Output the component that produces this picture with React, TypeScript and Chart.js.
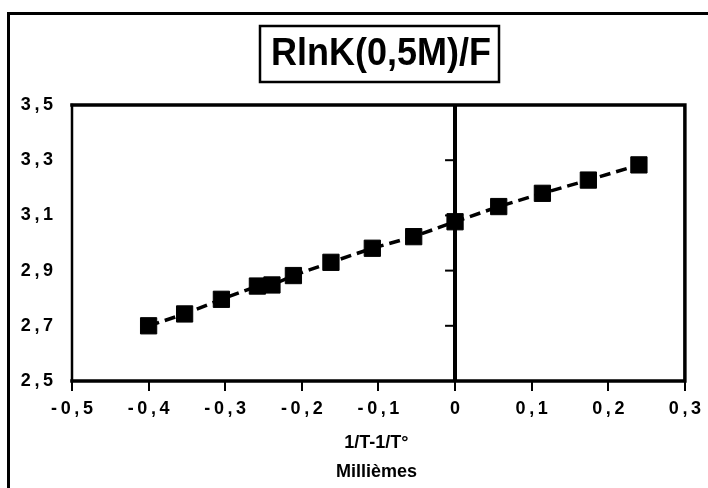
import { useEffect, useRef } from 'react';
import { Chart, registerables } from 'chart.js';

Chart.register(...registerables);

const xValues = [-0.4, -0.353, -0.305, -0.258, -0.239, -0.211, -0.162, -0.108, -0.054, 0.0, 0.057, 0.114, 0.174, 0.24];
const yValues = [2.7, 2.743, 2.796, 2.844, 2.848, 2.882, 2.93, 2.981, 3.023, 3.077, 3.132, 3.18, 3.228, 3.283];
const xRange = [-0.5, 0.3];
const yRange = [2.5, 3.5];
const xStep = 0.1;
const yStep = 0.2;
const titleText = 'RlnK(0,5M)/F';
const xTitleLines = ['1/T-1/T°', 'Millièmes'];

const FONT = '"Liberation Sans", Arial, Helvetica, sans-serif';

function fmt(v: number): string {
  if (Math.abs(v) < 1e-9) return '0';
  return v.toFixed(1).replace('.', ',').split('').join('\u2009');
}

const decor = {
  id: 'decor',
  beforeDatasetsDraw(chart: any) {
    const { ctx, chartArea } = chart;
    const { left, right, top, bottom } = chartArea;
    ctx.save();
    ctx.strokeStyle = '#000';
    ctx.lineCap = 'square';
    // plot frame
    ctx.lineWidth = 3.5;
    ctx.beginPath();
    ctx.moveTo(left, bottom);
    ctx.lineTo(right, bottom);
    ctx.lineTo(right, top);
    ctx.lineTo(left, top);
    ctx.stroke();
    ctx.lineWidth = 2.5;
    ctx.beginPath();
    ctx.moveTo(left, top);
    ctx.lineTo(left, bottom);
    ctx.stroke();
    // inner ticks on the zero line
    const x0 = chart.scales.x.getPixelForValue(0);
    ctx.lineWidth = 2;
    ctx.lineCap = 'butt';
    for (const t of chart.scales.y.ticks) {
      if (t.value <= yRange[0] + 1e-9 || t.value >= yRange[1] - 1e-9) continue;
      const py = chart.scales.y.getPixelForValue(t.value);
      ctx.beginPath();
      ctx.moveTo(x0 - 10, py);
      ctx.lineTo(x0, py);
      ctx.stroke();
    }
    ctx.restore();
  },
  afterDraw(chart: any) {
    const { ctx, chartArea, width, height } = chart;
    ctx.save();
    ctx.strokeStyle = '#000';
    ctx.fillStyle = '#000';
    // outer frame (left and top visible)
    ctx.lineWidth = 3;
    ctx.beginPath();
    ctx.moveTo(8.5, height);
    ctx.lineTo(8.5, 13.5);
    ctx.lineTo(width, 13.5);
    ctx.stroke();
    // title box
    ctx.lineWidth = 2.5;
    ctx.strokeRect(260, 26, 239, 56);
    ctx.font = `bold 36px ${FONT}`;
    ctx.textAlign = 'center';
    ctx.textBaseline = 'alphabetic';
    ctx.save();
    ctx.translate(381, 65);
    ctx.scale(1, 1.1);
    ctx.fillText(titleText, 0, 0);
    ctx.restore();
    // x axis titles
    const cx = (chartArea.left + chartArea.right) / 2 - 2;
    ctx.font = `bold 18px ${FONT}`;
    ctx.fillText(xTitleLines[0], cx, 448);
    ctx.font = `bold 18px ${FONT}`;
    ctx.fillText(xTitleLines[1], cx, 477);
    ctx.restore();
  },
};

export default function App() {
  const ref = useRef<HTMLCanvasElement | null>(null);

  useEffect(() => {
    if (!ref.current) return;
    const chart = new Chart(ref.current, {
      type: 'scatter',
      data: {
        datasets: [
          {
            data: xValues.map((x, i) => ({ x, y: yValues[i] })),
            showLine: true,
            borderColor: '#000',
            borderWidth: 3.5,
            borderDash: [11, 6],
            pointStyle: 'rect',
            pointRadius: 11.5,
            pointHoverRadius: 11.5,
            pointBackgroundColor: '#000',
            pointBorderColor: '#000',
            pointBorderWidth: 1,
          } as any,
        ],
      },
      options: {
        animation: false,
        responsive: true,
        maintainAspectRatio: false,
        events: [],
        layout: { padding: { left: 0, top: 105, right: 21, bottom: 0 } },
        plugins: {
          legend: { display: false },
          tooltip: { enabled: false },
          title: { display: false },
        },
        scales: {
          x: {
            type: 'linear',
            min: xRange[0],
            max: xRange[1],
            afterFit: (s: any) => {
              s.height = 107;
            },
            border: { display: false },
            grid: {
              display: true,
              drawOnChartArea: true,
              drawTicks: true,
              tickLength: 10,
              tickWidth: 2,
              tickColor: '#000',
              color: (c: any) => (c.tick && Math.abs(c.tick.value) < 1e-9 ? '#000' : 'rgba(0,0,0,0)'),
              lineWidth: (c: any) => (c.tick && Math.abs(c.tick.value) < 1e-9 ? 4 : 0),
            },
            ticks: {
              stepSize: xStep,
              color: '#000',
              padding: 7,
              maxRotation: 0,
              autoSkip: false,
              font: { family: FONT, size: 18, weight: 'bold' },
              callback: (v: any) => fmt(Number(v)),
            },
          },
          y: {
            type: 'linear',
            min: yRange[0],
            max: yRange[1],
            afterFit: (s: any) => {
              s.width = 72;
            },
            border: { display: false },
            grid: { display: false, drawTicks: false },
            ticks: {
              stepSize: yStep,
              color: '#000',
              padding: 19,
              autoSkip: false,
              font: { family: FONT, size: 18, weight: 'bold' },
              callback: (v: any) => fmt(Number(v)),
            },
          },
        },
      },
      plugins: [decor],
    });
    return () => chart.destroy();
  }, []);

  return (
    <div style={{ position: 'fixed', left: 0, top: 0, width: 708, height: 488, background: '#fff' }}>
      <canvas ref={ref} />
    </div>
  );
}
